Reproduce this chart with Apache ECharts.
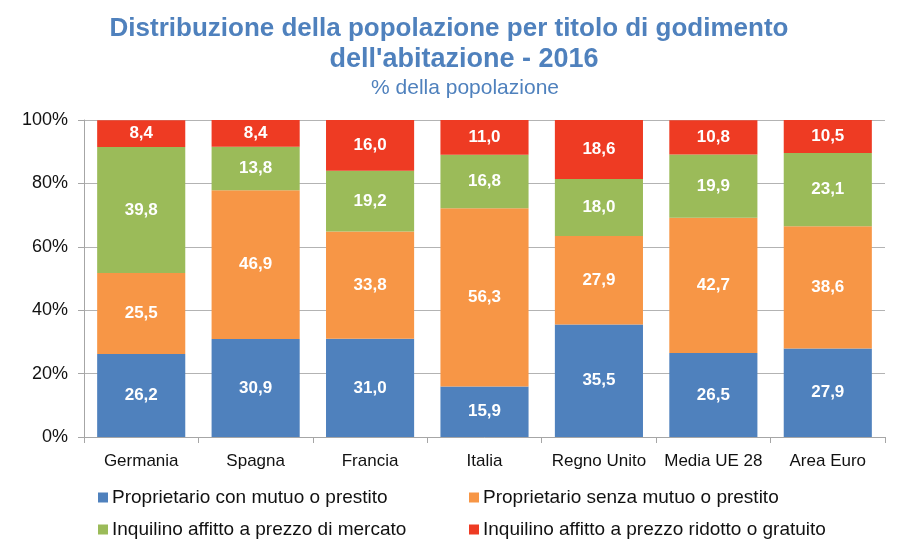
<!DOCTYPE html>
<html>
<head>
<meta charset="utf-8">
<script src="https://cdn.jsdelivr.net/npm/echarts@6/dist/echarts.min.js"></script>
<style>
    html, body { margin: 0; padding: 0; background: #fff; }
    #chart { width: 897px; height: 547px; }
</style>
</head>
<body>
<div id="chart"></div>
<script>
    // categorie e serie (% della popolazione)
    var categories = ['Germania', 'Spagna', 'Francia', 'Italia', 'Regno Unito', 'Media UE 28', 'Area Euro'];
    var conMutuo = [26.2, 30.9, 31.0, 15.9, 35.5, 26.5, 27.9];
    var senzaMutuo = [25.5, 46.9, 33.8, 56.3, 27.9, 42.7, 38.6];
    var affittoMercato = [39.8, 13.8, 19.2, 16.8, 18.0, 19.9, 23.1];
    var affittoRidotto = [8.4, 8.4, 16.0, 11.0, 18.6, 10.8, 10.5];

    var seriesNames = [
        'Proprietario con mutuo o prestito',
        'Proprietario senza mutuo o prestito',
        'Inquilino affitto a prezzo di mercato',
        'Inquilino affitto a prezzo ridotto o gratuito'
    ];
    var colors = ['#4F81BD', '#F79646', '#9BBB59', '#EE3B23'];

    var font = '"Liberation Sans", Arial, sans-serif';

    function makeSeries(name, data) {
        return {
            name: name,
            type: 'bar',
            stack: 'tot',
            barCategoryGap: '23%',
            data: data,
            label: {
                show: true,
                position: 'inside',
                color: '#fff',
                fontFamily: font,
                fontWeight: 'bold',
                fontSize: 17,
                formatter: function (p) {
                    return p.value.toFixed(1).replace('.', ',');
                }
            }
        };
    }

    // una legenda per voce, disposte su 2 colonne x 2 righe
    function makeLegend(name, left, top) {
        return {
            data: [name],
            left: left,
            top: top,
            padding: 0,
            itemWidth: 10,
            itemHeight: 10,
            itemGap: 0,
            icon: 'rect',
            selectedMode: false,
            textStyle: {fontFamily: font, fontSize: 19, color: '#111', padding: [0, 0, 0, -1]}
        };
    }

    var chart = echarts.init(document.getElementById('chart'));
    var option = {
        color: colors,
        animation: false,
        title: [
            {
                text: 'Distribuzione della popolazione per titolo di godimento',
                left: 449,
                top: 16,
                textAlign: 'center',
                padding: 0,
                textStyle: {color: '#4F81BD', fontFamily: font, fontWeight: 'bold', fontSize: 26}
            },
            {
                text: 'dell\'abitazione - 2016',
                left: 464,
                top: 46,
                textAlign: 'center',
                padding: 0,
                textStyle: {color: '#4F81BD', fontFamily: font, fontWeight: 'bold', fontSize: 27}
            },
            {
                text: '% della popolazione',
                left: 465,
                top: 78,
                textAlign: 'center',
                padding: 0,
                textStyle: {color: '#4F81BD', fontFamily: font, fontWeight: 'normal', fontSize: 21}
            }
        ],
        legend: [
            makeLegend(seriesNames[0], 98, 488),
            makeLegend(seriesNames[2], 98, 520),
            makeLegend(seriesNames[1], 469, 488),
            makeLegend(seriesNames[3], 469, 520)
        ],
        grid: {
            left: 84,
            right: 12,
            top: 120,
            bottom: 110,
            containLabel: false
        },
        xAxis: {
            type: 'category',
            data: categories,
            axisLine: {lineStyle: {color: '#a6a6a6', width: 1}},
            axisTick: {show: true, length: 6, interval: 0, lineStyle: {color: '#a6a6a6'}},
            axisLabel: {
                interval: 0,
                hideOverlap: false,
                color: '#111',
                fontFamily: font,
                fontSize: 17,
                margin: 16
            }
        },
        yAxis: {
            type: 'value',
            min: 0,
            max: 100,
            interval: 20,
            axisLine: {show: true, lineStyle: {color: '#a6a6a6'}},
            axisTick: {show: true, length: 6, lineStyle: {color: '#a6a6a6'}},
            splitLine: {lineStyle: {color: '#b3b3b3', width: 1}},
            axisLabel: {
                formatter: '{value}%',
                color: '#111',
                fontFamily: font,
                fontSize: 18,
                margin: 16
            }
        },
        series: [
            makeSeries(seriesNames[0], conMutuo),
            makeSeries(seriesNames[1], senzaMutuo),
            makeSeries(seriesNames[2], affittoMercato),
            makeSeries(seriesNames[3], affittoRidotto)
        ]
    };
    chart.setOption(option);
</script>
</body>
</html>
